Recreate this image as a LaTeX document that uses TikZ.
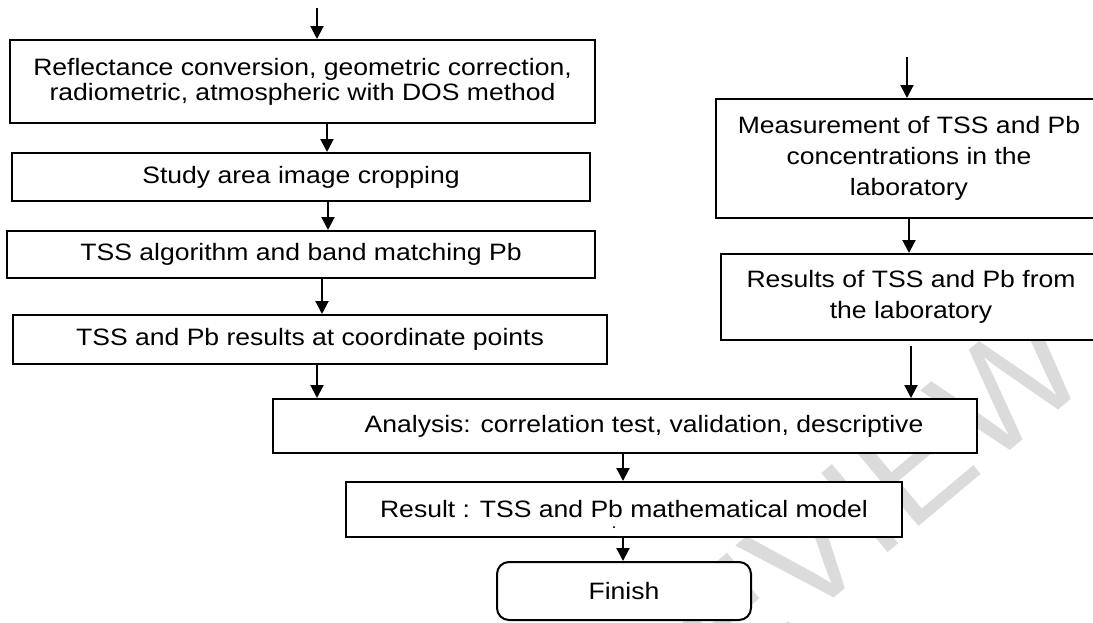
\documentclass[tikz,border=0pt]{standalone}
\usepackage{fontspec}
\setmainfont{Liberation Sans}[FakeStretch=1.12]
\newfontfamily\wmfont{Liberation Sans}
\usetikzlibrary{arrows.meta}
\begin{document}
\begin{tikzpicture}[x=0.5pt,y=-0.5pt,
  box/.style={draw=black, line width=1pt, fill=white, inner sep=0pt, align=center,
    font=\fontsize{11.85pt}{15.35pt}\selectfont},
  arr/.style={line width=1pt, -{Triangle[width=6.5pt,length=6.5pt]}}]
\useasboundingbox (0,0) rectangle (1093,622);
\clip (0,0) rectangle (1093,622);
\fill[white] (0,0) rectangle (1093,622);
% watermark
\node[rotate=40, text=black!14, inner sep=0pt, font=\wmfont\fontsize{75pt}{75pt}\selectfont] (wm) at (835,530) {REVIEW};
% left column
\node[box, minimum width=292.5pt, minimum height=41.5pt, font=\fontsize{11.85pt}{12.5pt}\selectfont] (b1) at (302.5,81.5)
  {Reflectance conversion, geometric correction,\\radiometric, atmospheric with DOS method};
\node[box, minimum width=289pt, minimum height=24pt] (b2) at (301,177) {Study area image cropping};
\node[box, minimum width=294pt, minimum height=23.5pt] (b3) at (301,254.5) {TSS algorithm and band matching Pb};
\node[box, minimum width=297pt, minimum height=24.5pt] (b4) at (310,339.5) {TSS and Pb results at coordinate points};
% right column
\node[box, minimum width=193pt, minimum height=59.5pt] (r1) at (909,158.5)
  {Measurement of TSS and Pb\\concentrations in the\\laboratory};
\node[box, minimum width=190pt, minimum height=43pt] (r2) at (911,297)
  {Results of TSS and Pb from\\the laboratory};
% bottom
\node[box, minimum width=352pt, minimum height=27pt] (an) at (625,426)
  {\hspace*{19pt}Analysis: correlation test, validation, descriptive};
\node[box, minimum width=278pt, minimum height=27.5pt] (rs) at (624,509.5)
  {Result : TSS and Pb mathematical model};
\node[inner sep=0pt, font=\fontsize{8pt}{8pt}\selectfont] (dot) at (614,528) {.};
\node[box, rounded corners=6pt, minimum width=127pt, minimum height=29pt] (fin) at (624,591) {Finish};
% connectors
\coordinate (t0) at (317,8);
\coordinate (x1) at (327,0);
\coordinate (x2) at (328,0);
\coordinate (x3) at (322,0);
\coordinate (x4) at (317,0);
\coordinate (x5) at (623,0);
\coordinate (t1) at (907,57);
\coordinate (x6) at (909,0);
\coordinate (x7) at (911,0);
\draw[arr] (t0) -- (t0 |- b1.north);
\draw[arr] (b1.south -| x1) -- (b2.north -| x1);
\draw[arr] (b2.south -| x2) -- (b3.north -| x2);
\draw[arr] (b3.south -| x3) -- (b4.north -| x3);
\draw[arr] (b4.south -| x4) -- (an.north -| x4);
\draw[arr] (t1) -- (t1 |- r1.north);
\draw[arr] (r1.south -| x6) -- (r2.north -| x6);
\draw[arr] ([yshift=-2.5pt]r2.south -| x7) -- (an.north -| x7);
\draw[arr] (an.south -| x5) -- (rs.north -| x5);
\draw[arr] (rs.south -| x5) -- (fin.north -| x5);
\end{tikzpicture}
\end{document}
